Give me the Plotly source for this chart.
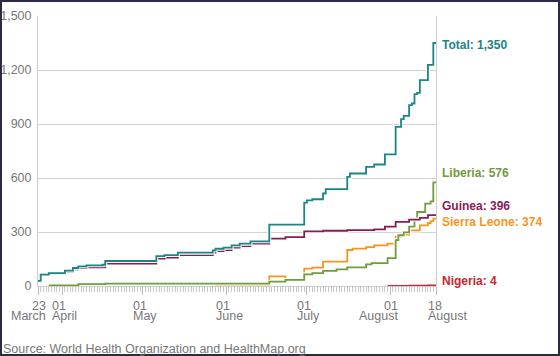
import plotly.graph_objects as go

# ---- data (cumulative deaths) ----
dates_total = ["2014-03-23", "2014-03-24", "2014-03-27", "2014-04-02", "2014-04-05", "2014-04-07",
               "2014-04-10", "2014-04-16", "2014-04-17", "2014-05-06", "2014-05-09", "2014-05-14",
               "2014-05-27", "2014-05-28", "2014-05-31", "2014-06-03", "2014-06-06", "2014-06-10",
               "2014-06-17", "2014-06-30", "2014-07-01", "2014-07-03", "2014-07-07", "2014-07-08",
               "2014-07-16", "2014-07-17", "2014-07-23", "2014-07-26", "2014-07-30", "2014-08-03",
               "2014-08-05", "2014-08-06", "2014-08-08", "2014-08-09", "2014-08-10", "2014-08-11",
               "2014-08-12", "2014-08-15", "2014-08-17", "2014-08-18"]
total = [29, 63, 72, 85, 100, 109, 115, 118, 139, 166, 172, 185, 198, 207, 213, 226, 235, 248,
         341, 463, 476, 482, 514, 538, 606, 625, 662, 675, 731, 884, 927, 945, 1005, 1014, 1066,
         1073, 1144, 1228, 1350, 1350]

dates_guinea = ["2014-03-23", "2014-03-24", "2014-03-27", "2014-04-02", "2014-04-05", "2014-04-07",
                "2014-04-10", "2014-04-17", "2014-05-06", "2014-05-09", "2014-05-14", "2014-05-27",
                "2014-05-28", "2014-05-31", "2014-06-03", "2014-06-06", "2014-06-10", "2014-06-17",
                "2014-06-23", "2014-06-30", "2014-07-07", "2014-07-16", "2014-07-26", "2014-07-30",
                "2014-08-03", "2014-08-08", "2014-08-12", "2014-08-15", "2014-08-18"]
guinea = [29, 63, 68, 79, 92, 99, 104, 125, 152, 158, 172, 185, 194, 200, 213, 222, 235, 263,
          272, 303, 307, 310, 315, 330, 356, 369, 378, 394, 396]

dates_liberia = ["2014-03-27", "2014-04-07", "2014-04-17", "2014-06-17", "2014-06-23", "2014-06-30",
                 "2014-07-03", "2014-07-07", "2014-07-12", "2014-07-16", "2014-07-23", "2014-07-25",
                 "2014-07-31", "2014-08-03", "2014-08-04", "2014-08-06", "2014-08-08", "2014-08-10",
                 "2014-08-11", "2014-08-14", "2014-08-16", "2014-08-17", "2014-08-18"]
liberia = [4, 10, 13, 24, 34, 65, 72, 84, 92, 103, 120, 127, 155, 255, 282, 298, 330, 370, 411,
           458, 470, 576, 576]

dates_sierra = ["2014-05-28", "2014-06-17", "2014-06-23", "2014-06-30", "2014-07-03", "2014-07-07",
                "2014-07-16", "2014-07-18", "2014-07-23", "2014-07-26", "2014-07-31", "2014-08-03",
                "2014-08-05", "2014-08-08", "2014-08-12", "2014-08-15", "2014-08-16", "2014-08-17",
                "2014-08-18"]
sierra = [5, 53, 34, 96, 102, 135, 200, 208, 216, 226, 235, 274, 285, 309, 337, 350, 360, 374, 374]

dates_nigeria = ["2014-07-31", "2014-08-08", "2014-08-15", "2014-08-18"]
nigeria = [1, 2, 4, 4]

y_ticks = [0, 300, 600, 900, 1200, 1500]
x_tick_dates = ["2014-03-23", "2014-04-01", "2014-05-01", "2014-06-01", "2014-07-01", "2014-08-01", "2014-08-18"]
x_tick_top = ["23", "01", "01", "01", "01", "01", "18"]
x_tick_bottom = ["March", "April", "May", "June", "July", "August", "August"]

series = [
    ("Nigeria", dates_nigeria, nigeria, "#cf2331"),
    ("Sierra Leone", dates_sierra, sierra, "#f7941e"),
    ("Liberia", dates_liberia, liberia, "#6f9c3c"),
    ("Guinea", dates_guinea, guinea, "#8a1c55"),
    ("Total", dates_total, total, "#1a8585"),
]
label_shift = {"Total": -2, "Liberia": 9, "Guinea": 8.5, "Sierra Leone": -3.5, "Nigeria": 4}

FONT = "Liberation Sans, Arial, sans-serif"
ML, MR, MT, MB = 38, 124, 16, 70
W, H = 560, 356
PW, PH = W - ML - MR, H - MT - MB

fig = go.Figure()
for name, d, v, c in series:
    fig.add_trace(go.Scatter(x=d, y=v, mode="lines", hoverinfo="skip", showlegend=False,
                             line=dict(color="rgba(255,255,255,0.9)", width=4, shape="hv")))
    fig.add_trace(go.Scatter(x=d, y=v, mode="lines", name=name, showlegend=False,
                             line=dict(color=c, width=1.8, shape="hv")))

annotations = []
for name, d, v, c in series:
    annotations.append(dict(x=d[-1], y=v[-1], xref="x", yref="y", xanchor="left", yanchor="middle",
                            xshift=4, yshift=label_shift[name], showarrow=False,
                            text=f"<b>{name}: {v[-1]:,}</b>",
                            font=dict(family=FONT, size=12, color=c)))

# x tick labels (two lines, aligned like the reference)
for i, (d, top, bot) in enumerate(zip(x_tick_dates, x_tick_top, x_tick_bottom)):
    if i == 0 or i == 5:
        anchor, xs, al = "right", 8, "right"
    elif i == 6:
        anchor, xs, al = "left", -8, "left"
    else:
        anchor, xs, al = "left", -10, "left"
    for txt, ys in ((top, -20), (bot, -30)):
        annotations.append(dict(x=d, y=0, xref="x", yref="paper", xanchor=anchor, yanchor="middle",
                                xshift=xs, yshift=ys, showarrow=False, text=txt, align=al,
                                borderpad=0, borderwidth=0,
                                font=dict(family=FONT, size=12.5, color="#777777")))

annotations.append(dict(x=(1 - ML) / PW, y=0, xref="paper", yref="paper", xanchor="left",
                        yanchor="middle", yshift=-63, showarrow=False,
                        text="Source: World Health Organization and HealthMap.org",
                        font=dict(family=FONT, size=12.5, color="#777777")))

fig.update_layout(
    width=W, height=H, autosize=False,
    margin=dict(l=ML, r=MR, t=MT, b=MB, pad=0, autoexpand=False),
    paper_bgcolor="white", plot_bgcolor="white",
    annotations=annotations,
    hovermode=False,
    shapes=[dict(type="rect", xref="paper", yref="paper", layer="above",
                 x0=(-ML + 1) / PW, x1=1 + (MR - 1) / PW,
                 y0=(-MB + 1) / PH, y1=1 + (MT - 1) / PH,
                 line=dict(color="#2c2a48", width=2))],
    xaxis=dict(type="date", range=["2014-03-23", "2014-08-18"], showgrid=False, zeroline=False,
               automargin=False,
               showline=True, linecolor="#cccccc", linewidth=1,
               tickmode="array", tickvals=x_tick_dates, showticklabels=False,
               ticks="outside", ticklen=8, tickcolor="#bbbbbb", tickwidth=1,
               minor=dict(dtick=86400000, tick0="2014-03-23", ticks="outside", ticklen=5,
                          tickcolor="#c8c8c8", tickwidth=1, showgrid=False)),
    yaxis=dict(range=[0, 1500], tickmode="array", tickvals=y_ticks, tickformat=",",
               automargin=False,
               showgrid=True, gridcolor="#d2d2d2", gridwidth=1, zeroline=False,
               showline=True, mirror=True, linecolor="#cccccc", linewidth=1,
               ticks="", ticklabelstandoff=3,
               tickfont=dict(family=FONT, size=12.5, color="#777777")),
)

fig.write_html("out.html", config={"displayModeBar": False},
               post_script="document.body.style.margin='0';document.body.style.overflow='hidden';")
